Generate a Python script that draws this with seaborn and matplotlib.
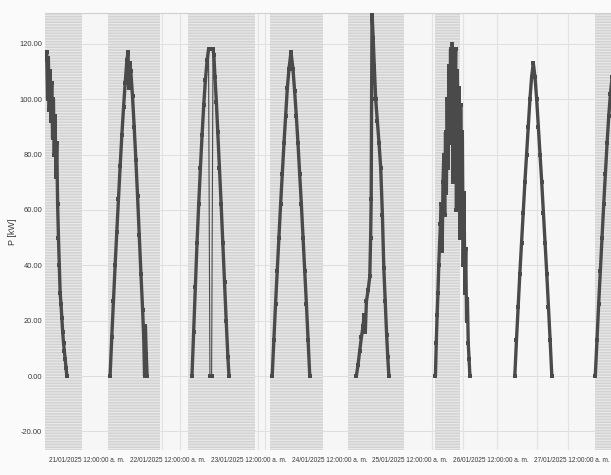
import matplotlib
matplotlib.use('Agg')
import matplotlib.pyplot as plt
import matplotlib.dates as mdates
import pandas as pd
import seaborn as sns

# --- values: P [kW] per day (time of day, value) ---
jan20_times = ['11:45', '12:00', '12:15', '12:30', '12:45', '13:00', '13:15', '13:30', '13:45',
               '14:00', '14:15', '14:30', '14:45', '15:00', '15:15', '15:30', '15:45', '16:00',
               '16:15', '16:30', '16:45', '17:00', '17:15', '17:30', '17:45', '18:00']
jan20_kw = [114, 117, 100, 115, 96, 110, 92, 106, 86, 100, 80, 94, 72, 84, 62, 50, 40, 30,
            26, 21, 16, 12, 9, 6, 3, 0]

jan21_times = ['06:50', '07:20', '07:50', '08:20', '08:50', '09:20', '09:50', '10:20', '10:50',
               '11:20', '11:50', '12:10', '12:25', '12:40', '13:00', '13:30', '14:00', '14:30',
               '15:00', '15:30', '16:00', '16:30', '16:50', '17:05', '17:20', '17:35', '17:50']
jan21_kw = [0, 14, 27, 40, 52, 64, 76, 87, 97, 106, 114, 117, 104, 113, 110, 101, 90, 78,
            65, 51, 37, 24, 14, 0, 18, 8, 0]

jan22_times = ['07:10', '07:40', '08:10', '08:40', '09:10', '09:40', '10:10', '10:40', '11:10',
               '11:40', '12:05', '12:30', '13:00', '13:25', '13:40', '14:00', '14:25', '14:50',
               '15:20', '15:50', '16:20', '16:50', '17:20', '17:50', '18:10']
jan22_kw = [0, 16, 32, 48, 62, 75, 87, 98, 107, 114, 118, 0, 0, 118, 116, 108, 99, 88,
            75, 62, 48, 34, 20, 7, 0]
# midday outage on 22/01: the drop to zero is only joined by a thin line
outage_start, outage_end = '2025-01-22 12:05', '2025-01-22 13:25'

jan23_times = ['07:00', '07:30', '08:00', '08:30', '09:00', '09:30', '10:00', '10:30', '11:00',
               '11:30', '12:00', '12:35', '13:10', '13:40', '14:10', '14:40', '15:10', '15:40',
               '16:10', '16:40', '17:10', '17:40', '18:10']
jan23_kw = [0, 13, 26, 38, 50, 62, 73, 84, 94, 104, 111, 117, 111, 103, 94, 84, 73, 62,
            50, 38, 26, 13, 0]

jan24_times = ['08:00', '08:30', '09:00', '09:30', '10:00', '10:20', '10:40', '11:00', '11:30',
               '12:00', '12:15', '12:25', '12:32', '12:40', '13:00', '13:20', '13:45', '14:15',
               '14:45', '15:15', '15:45', '16:10', '16:35', '17:00', '17:20', '17:40']
jan24_kw = [0, 4, 9, 14, 18, 22, 16, 27, 31, 36, 50, 64, 100, 131, 122, 112, 100, 92,
            84, 75, 58, 39, 27, 15, 7, 0]

jan25_times = ['07:30', '07:45', '08:00', '08:15', '08:30', '08:45', '09:00', '09:15', '09:30',
               '09:45', '10:00', '10:15', '10:30', '10:45', '11:00', '11:15', '11:30', '11:45',
               '12:00', '12:15', '12:30', '12:45', '13:00', '13:15', '13:30', '13:45', '14:00',
               '14:15', '14:30', '14:45', '15:00', '15:15', '15:30', '15:45', '16:00', '16:15',
               '16:30', '16:45', '17:00', '17:15', '17:30', '17:45']
jan25_kw = [0, 12, 22, 30, 40, 48, 55, 62, 45, 70, 80, 58, 88, 66, 100, 75, 112, 90,
            118, 84, 120, 70, 115, 95, 118, 60, 110, 78, 104, 50, 98, 72, 88, 40, 66, 30,
            46, 20, 28, 12, 6, 0]

jan26_times = ['07:05', '07:35', '08:05', '08:35', '09:05', '09:35', '10:05', '10:35', '11:05',
               '11:35', '12:05', '12:35', '13:05', '13:35', '14:05', '14:35', '15:05', '15:35',
               '16:05', '16:35', '17:05', '17:35', '18:05']
jan26_kw = [0, 13, 25, 37, 48, 59, 70, 80, 90, 100, 108, 113, 108, 100, 90, 80, 70, 59,
            48, 37, 25, 13, 0]

jan27_times = ['07:00', '07:30', '08:00', '08:30', '09:00', '09:30', '10:00', '10:30', '11:00',
               '11:30', '12:00']
jan27_kw = [0, 13, 26, 38, 50, 62, 73, 84, 94, 102, 108]

DAYS = [('2025-01-20', jan20_times, jan20_kw), ('2025-01-21', jan21_times, jan21_kw),
        ('2025-01-22', jan22_times, jan22_kw), ('2025-01-23', jan23_times, jan23_kw),
        ('2025-01-24', jan24_times, jan24_kw), ('2025-01-25', jan25_times, jan25_kw),
        ('2025-01-26', jan26_times, jan26_kw), ('2025-01-27', jan27_times, jan27_kw)]

# shaded (gray) stretches and faint vertical lines seen in the background
band_starts = ['2025-01-20 11:30', '2025-01-21 06:15', '2025-01-22 06:00', '2025-01-23 06:15',
               '2025-01-24 05:30', '2025-01-25 07:25', '2025-01-27 07:00']
band_ends = ['2025-01-20 22:30', '2025-01-21 21:40', '2025-01-23 01:55', '2025-01-23 22:05',
             '2025-01-24 22:10', '2025-01-25 14:55', '2025-01-27 12:00']
faint_lines = ['2025-01-21 22:15', '2025-01-22 03:40', '2025-01-23 02:45', '2025-01-23 04:50',
               '2025-01-25 06:30', '2025-01-25 15:40', '2025-01-26 01:45', '2025-01-26 13:40',
               '2025-01-26 22:50']

tick_days = ['2025-01-21', '2025-01-22', '2025-01-23', '2025-01-24', '2025-01-25',
             '2025-01-26', '2025-01-27']
tick_labels = ['21/01/2025 12:00:00 a. m.', '22/01/2025 12:00:00 a. m.',
               '23/01/2025 12:00:00 a. m.', '24/01/2025 12:00:00 a. m.',
               '25/01/2025 12:00:00 a. m.', '26/01/2025 12:00:00 a. m.',
               '27/01/2025 12:00:00 a. m.']
y_ticks = [-20, 0, 20, 40, 60, 80, 100, 120]

# --- build long table ---
frames = []
for day, times, kw in DAYS:
    ts = pd.to_datetime([f'{day} {t}' for t in times])
    frames.append(pd.DataFrame({'time': ts, 'P': kw, 'day': day}))
df = pd.concat(frames, ignore_index=True)

# split the outage day so the thick trace breaks there
o0, o1 = pd.Timestamp(outage_start), pd.Timestamp(outage_end)
df['seg'] = df['day']
df.loc[(df['time'] > o0) & (df['time'] < o1), 'seg'] = 'gap'
df.loc[df['time'] >= o1, 'seg'] = df.loc[df['time'] >= o1, 'day'] + 'b'
thick = df[df['seg'] != 'gap']

sns.set_style('white')
plt.rcParams['font.family'] = ['Liberation Sans', 'DejaVu Sans']
plt.rcParams['hatch.linewidth'] = 0.9


def d2n(s):
    return mdates.date2num(pd.Timestamp(s))


fig = plt.figure(figsize=(6.11, 4.75), dpi=100, facecolor='#fafafa')
ax = fig.add_axes([45 / 611, 25 / 475, 566 / 611, 437.5 / 475])
ax.set_facecolor('#f6f6f6')

for s, e in zip(band_starts, band_ends):
    ax.axvspan(d2n(s), d2n(e), facecolor='#d2d2d2', edgecolor='#e8e8e8',
               hatch='------', linewidth=0, zorder=1)
for t in faint_lines:
    ax.axvline(d2n(t), color='#e2e2e2', lw=0.8, zorder=1.5)

# thin connecting line through every point, thick trace on the continuous parts
sns.lineplot(data=df, x='time', y='P', units='day', estimator=None, sort=False,
             color='#4a4a4a', lw=0.8, marker='s', markersize=3, markeredgewidth=0,
             legend=False, ax=ax, zorder=3)
sns.lineplot(data=thick, x='time', y='P', units='seg', estimator=None, sort=False,
             color='#4a4a4a', lw=2.4, legend=False, ax=ax, zorder=3)

ax.set_xlim(d2n('2025-01-20 11:30'), d2n('2025-01-27 11:40'))
ax.set_ylim(-26.7, 131.3)
ax.set_yticks(y_ticks)
ax.set_yticklabels([f'{v:.2f}' for v in y_ticks])
ax.set_xticks([d2n(d) for d in tick_days])
ax.set_xticklabels(tick_labels)
ax.tick_params(axis='both', length=0, labelcolor='#3a3a3a')
ax.tick_params(axis='x', pad=5, labelsize=4.7)
ax.tick_params(axis='y', pad=2, labelsize=5.4)

ax.set_xlabel('')
ax.set_ylabel('P [kW]', fontsize=6.5, color='#3a3a3a')
ax.yaxis.set_label_coords(-0.05, 0.5)

ax.grid(axis='y', color='#dadada', lw=0.6)
ax.set_axisbelow(True)
for side in ['left', 'right', 'bottom']:
    ax.spines[side].set_visible(False)
ax.spines['top'].set_color('#d0d0d0')
ax.spines['top'].set_linewidth(0.8)

fig.savefig('out.png', dpi=100, facecolor=fig.get_facecolor())
plt.close(fig)
